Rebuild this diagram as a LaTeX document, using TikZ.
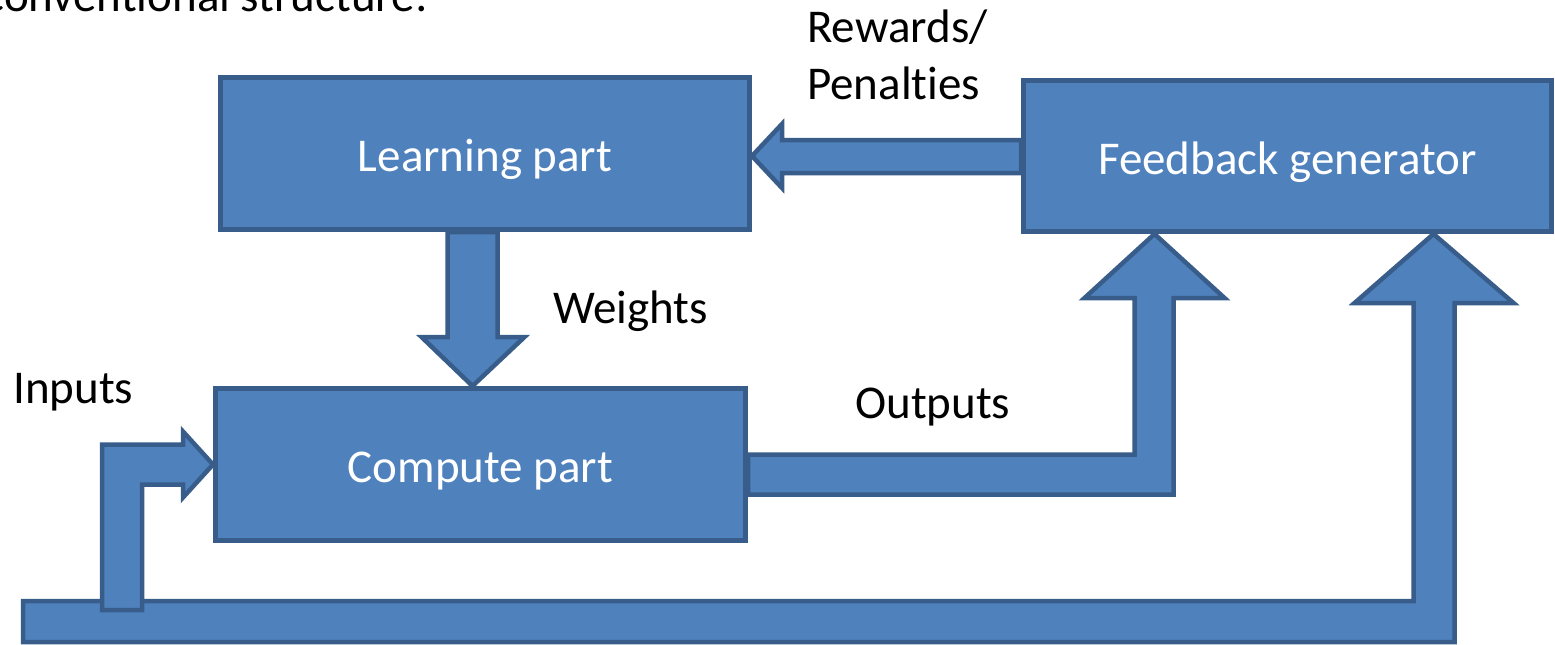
\documentclass[tikz,border=0pt]{standalone}
\usepackage{fontspec}
\setmainfont{Carlito}[Ligatures=NoCommon]
\usetikzlibrary{calc,backgrounds}
\definecolor{boxfill}{HTML}{4F81BD}
\definecolor{boxline}{HTML}{385D8A}
\tikzset{
  block/.style={draw=boxline, fill=boxfill, line width=5pt, inner sep=0pt,
    text=white, font=\fontsize{47}{57}\selectfont, text height=36pt, text depth=0pt},
  blockarrow/.style={draw=boxline, fill=boxfill, line width=4.5pt, line join=miter},
  caption/.style={inner sep=0pt, text=black, font=\fontsize{47}{57}\selectfont},
}
\begin{document}
\begin{tikzpicture}[x=1pt,y=-1pt]
\useasboundingbox (0,0) rectangle (1555,645);

% title line, cut by the top of the frame
\node[caption, anchor=base east] (title) at (428,12) {conventional structure:};

% the three blocks
\node[block, minimum width=529pt, minimum height=152pt] (learn) at (485,153.5) {Learning part};
\node[block, minimum width=528pt, minimum height=151pt] (fb) at (1287.5,156) {Feedback generator};
\node[block, minimum width=530pt, minimum height=152pt] (compute) at (480.5,464.5) {Compute part};

% labels of the signals
\node[caption, anchor=base west, align=left] (rp) at (807,99) {Rewards/\\Penalties};
\node[caption, anchor=base west] (wlab) at (553,323) {Weights};
\node[caption, anchor=base west] (ilab) at (13,403) {Inputs};
\node[caption, anchor=base west] (olab) at (855,418) {Outputs};

% anchor points of the block arrows
\coordinate (rpT) at (learn.east |- fb.west);
\coordinate (rpS) at (fb.west);
\coordinate (wT) at ($(compute.north)+(-8,0)$);
\coordinate (wS) at (wT |- learn.south);
\coordinate (oT) at ($(fb.south)+(-133,0)$);
\coordinate (oS) at ($(compute.east)+(0,10)$);
\coordinate (lT) at ($(fb.south)+(146,0)$);
\coordinate (lS) at (23,621.5);
\coordinate (iT) at (compute.west);
\coordinate (iB) at (122,610);

\begin{pgfonlayer}{background}
% feedback loop running under everything
\draw[blockarrow] ($(lS)+(0,-20.5)$) -- ($(lT |- lS)+(-20,-20.5)$) -- ($(lT)+(-20,69)$)
  -- ($(lT)+(-79,69)$) -- (lT) -- ($(lT)+(80,69)$) -- ($(lT)+(21,69)$)
  -- ($(lT |- lS)+(21,20.5)$) -- ($(lS)+(0,20.5)$) -- cycle;
% inputs branch
\draw[blockarrow] ($(iB)+(-20,0)$) -- ($(iB |- iT)+(-20,-20)$) -- ($(iT)+(-30,-20)$)
  -- ($(iT)+(-30,-33)$) -- (iT) -- ($(iT)+(-30,33)$) -- ($(iT)+(-30,20)$)
  -- ($(iB |- iT)+(20,20)$) -- ($(iB)+(20,0)$) -- cycle;
% outputs
\draw[blockarrow] ($(oS)+(0,-20)$) -- ($(oT |- oS)+(-20,-20)$) -- ($(oT)+(-20,64)$)
  -- ($(oT)+(-70,64)$) -- (oT) -- ($(oT)+(70,64)$) -- ($(oT)+(19,64)$)
  -- ($(oT |- oS)+(19,20)$) -- ($(oS)+(0,20)$) -- cycle;
% weights
\draw[blockarrow] (wT) -- ($(wT)+(-51,-49)$) -- ($(wT)+(-25,-49)$) -- ($(wS)+(-25,0)$)
  -- ($(wS)+(25,0)$) -- ($(wT)+(25,-49)$) -- ($(wT)+(52,-49)$) -- cycle;
% rewards / penalties
\draw[blockarrow] (rpT) -- ($(rpT)+(30,-32)$) -- ($(rpT)+(30,-16)$) -- ($(rpS)+(0,-16)$)
  -- ($(rpS)+(0,17)$) -- ($(rpT)+(30,17)$) -- ($(rpT)+(30,32)$) -- cycle;
\end{pgfonlayer}
\end{tikzpicture}
\end{document}
